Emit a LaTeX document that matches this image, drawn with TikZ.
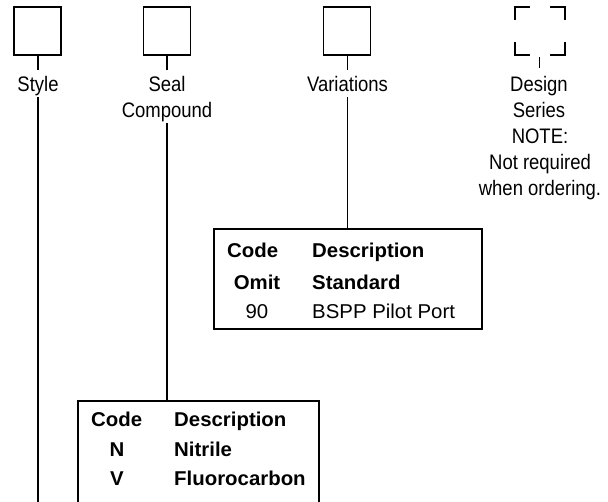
\documentclass[tikz,border=0pt]{standalone}
\usepackage{fontspec}
\setmainfont{Liberation Sans}
\newfontfamily\condfont[FakeStretch=0.88]{Liberation Sans}
\newfontfamily\tabfont[FakeStretch=1.02]{Liberation Sans}
\usetikzlibrary{calc}
\begin{document}
\begin{tikzpicture}[x=1pt,y=-1pt,
  sqbox/.style={draw, line width=1.6pt, minimum width=47pt, minimum height=48pt, inner sep=0pt},
  cornerbox/.style={minimum width=50pt, minimum height=48pt, inner sep=0pt},
  corner/.style={line width=2pt, line cap=butt},
  lbl/.style={font=\condfont\fontsize{21}{26}\selectfont, anchor=base, text height=15pt, text depth=0pt, inner xsep=0pt, inner ysep=6pt},
  tbox/.style={draw, line width=1.6pt, inner sep=0pt},
  thb/.style={font=\tabfont\bfseries\fontsize{20}{22}\selectfont, inner sep=0pt},
  thr/.style={font=\tabfont\fontsize{20}{22}\selectfont, inner sep=0pt},
  conn/.style={line width=1.4pt}
]
\useasboundingbox (0,0) rectangle (608,501);
\clip (0,0) rectangle (608,501);

% top boxes
\node[sqbox] (stylebox) at (37.5,31) {};
\node[sqbox] (sealbox) at (167,31) {};
\node[sqbox] (varbox) at (347,31) {};
\node[cornerbox] (dsbox) at (540,31) {};
\draw[corner] ($(dsbox.north west)+(0,13)$) -- (dsbox.north west) -- ++(15,0);
\draw[corner] ($(dsbox.north east)+(0,13)$) -- (dsbox.north east) -- ++(-15,0);
\draw[corner] ($(dsbox.south west)+(0,-13)$) -- (dsbox.south west) -- ++(15,0);
\draw[corner] ($(dsbox.south east)+(0,-13)$) -- (dsbox.south east) -- ++(-15,0);

% labels
\node[lbl] (stylelbl) at (38,91) {Style};
\node[lbl] (seal1) at (167,91) {Seal};
\node[lbl] (seal2) at (167,117) {Compound};
\node[lbl] (varlbl) at (347.5,91) {Variations};
\node[lbl] (ds1) at (539,91) {Design};
\node[lbl] (ds2) at (539,117) {Series};
\node[lbl] (note1) at (540,143) {NOTE:};
\node[lbl] (note2) at (540,169) {Not required};
\node[lbl] (note3) at (540,195) {when ordering.};

% tables
\node[tbox, minimum width=268pt, minimum height=100pt] (vartab) at (348,279) {};
\node[tbox, minimum width=241pt, minimum height=120pt] (sealtab) at (198.5,461) {};
\coordinate (stylebot) at (38,505);

% variations table text
\node[thb, anchor=base west] (vc) at (227,257) {Code};
\node[thb, anchor=base west] (vd) at (312,257) {Description};
\node[thb, anchor=base] (vo) at (257,289) {Omit};
\node[thb, anchor=base west] (vs) at (312,289) {Standard};
\node[thr, anchor=base] (v90) at (257,318) {90};
\node[thr, anchor=base west] (vb) at (312,318) {BSPP Pilot Port};

% seal table text
\node[thb, anchor=base west] (sc) at (91,426) {Code};
\node[thb, anchor=base west] (sd) at (174,426) {Description};
\node[thb, anchor=base] (sn) at (117,456.5) {N};
\node[thb, anchor=base west] (snt) at (174,456.5) {Nitrile};
\node[thb, anchor=base] (sv) at (117,485) {V};
\node[thb, anchor=base west] (sf) at (174,485) {Fluorocarbon};

% connectors
\draw[conn] (stylebox.south -| stylelbl) -- (stylelbl.north);
\draw[conn] (stylelbl.south) -- (stylebot);
\draw[conn] (sealbox.south) -- (seal1.north);
\draw[conn] (seal2.south) -- (seal2.south |- sealtab.north);
\draw[conn] (varbox.south -| varlbl) -- (varlbl.north);
\draw[conn] (varlbl.south) -- (varlbl.south |- vartab.north);
\draw[line width=1pt, shorten <=2pt, shorten >=2pt] (dsbox.south -| ds1) -- (ds1.north);
\end{tikzpicture}
\end{document}
